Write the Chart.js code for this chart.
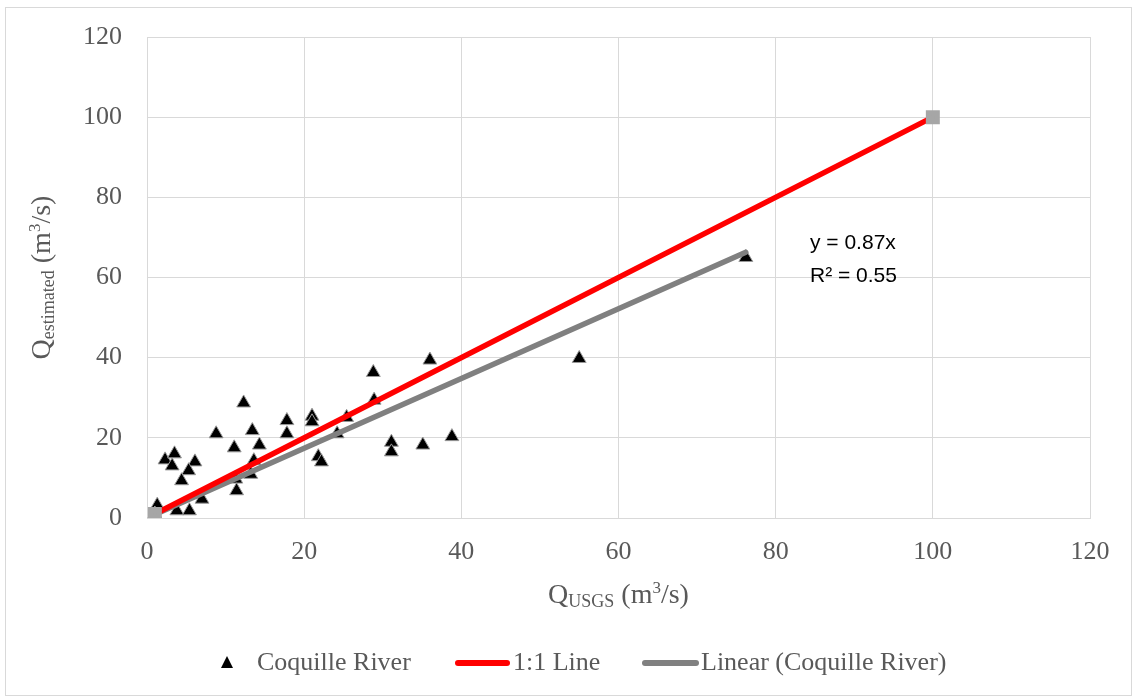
<!DOCTYPE html>
<html>
<head>
<meta charset="utf-8">
<title>Coquille River</title>
<script src="https://cdn.jsdelivr.net/npm/chart.js@4.4.1/dist/chart.umd.min.js"></script>
<style>
    body { margin: 0; background: #fff; }
    #wrap { width: 1138px; height: 700px; }
</style>
</head>
<body>
<div id="wrap"><canvas id="qChart" width="1138" height="700"></canvas></div>
<script>
// Observed vs estimated discharge (m3/s)
const usgsQ = [1.3, 2.3, 3.5, 3.2, 6.1, 5.3, 4.4, 3.8, 5.4, 7.0, 8.8, 11.1, 11.3, 11.4, 12.3, 13.4, 13.6, 13.2, 14.3,
    17.8, 17.8, 21.0, 21.0, 21.8, 22.2, 24.2, 25.4, 28.8, 28.9, 31.1, 31.1, 35.1, 36.0, 38.8, 55.0, 76.2, 1.0];
const estQ = [3.2, 14.5, 16.0, 13.0, 14.0, 11.8, 9.3, 1.8, 1.8, 4.7, 21.0, 17.5, 9.7, 6.8, 28.7, 21.8, 14.3, 10.9, 18.2,
    24.3, 21.0, 25.4, 24.0, 15.3, 14.0, 21.0, 25.1, 36.3, 29.4, 18.9, 16.5, 18.2, 39.4, 20.3, 39.8, 65.0, 1.0];

// 1:1 reference line end points
const oneToOneX = [1, 100];
const oneToOneY = [1, 100];

// linear trend line (y = 0.87x) end points
const trendX = [1, 76.2];
const trendY = [0.87, 66.3];
const trendText = ['y = 0.87x', 'R² = 0.55'];

const axisMax = 120;
const axisStep = 20;

const serif = '"Liberation Serif", "Times New Roman", serif';
const tickGray = '#595959';

function toPoints(xs, ys) {
    return xs.map((x, i) => ({ x: x, y: ys[i] }));
}

// Draw rich text pieces (subscripts / superscripts) along a baseline
function drawRich(ctx, parts, x, y) {
    let width = 0;
    parts.forEach(p => {
        ctx.font = p.size + 'px ' + serif;
        width += ctx.measureText(p.text).width;
    });
    let cx = x - width / 2;
    parts.forEach(p => {
        ctx.font = p.size + 'px ' + serif;
        ctx.fillText(p.text, cx, y + (p.shift || 0));
        cx += ctx.measureText(p.text).width;
    });
}

// Legend drawn by hand so each marker gets its own width
function drawLegend(chart) {
    const ctx = chart.ctx;
    const ds = chart.data.datasets;
    const y = 663;
    ctx.save();
    ctx.font = '26px ' + serif;
    ctx.fillStyle = tickGray;
    ctx.textBaseline = 'middle';
    ctx.textAlign = 'left';

    // scatter marker
    ctx.fillStyle = '#000';
    ctx.beginPath();
    ctx.moveTo(227, y - 7);
    ctx.lineTo(233, y + 5);
    ctx.lineTo(221, y + 5);
    ctx.closePath();
    ctx.fill();
    ctx.fillStyle = tickGray;
    ctx.fillText(ds[0].label, 257, y);

    // line markers
    [[1, 458, 507, 513], [2, 645, 696, 701]].forEach(([i, x0, x1, tx]) => {
        ctx.strokeStyle = ds[i].borderColor;
        ctx.lineWidth = 6;
        ctx.lineCap = 'round';
        ctx.beginPath();
        ctx.moveTo(x0, y);
        ctx.lineTo(x1, y);
        ctx.stroke();
        ctx.fillText(ds[i].label, tx, y);
    });
    ctx.restore();
}

const extrasPlugin = {
    id: 'extras',
    beforeDraw(chart) {
        const ctx = chart.ctx;
        ctx.save();
        ctx.fillStyle = '#fff';
        ctx.fillRect(0, 0, chart.width, chart.height);
        ctx.strokeStyle = '#d9d9d9';
        ctx.lineWidth = 1;
        ctx.strokeRect(5.5, 7.5, 1126, 688);
        ctx.restore();
    },
    afterDraw(chart) {
        const ctx = chart.ctx;
        const xs = chart.scales.x;
        const ys = chart.scales.y;
        ctx.save();
        ctx.fillStyle = tickGray;
        ctx.textBaseline = 'alphabetic';

        // x axis title
        drawRich(ctx, [
            { text: 'Q', size: 28 },
            { text: 'USGS', size: 18, shift: 4 },
            { text: ' (m', size: 28 },
            { text: '3', size: 17, shift: -10 },
            { text: '/s)', size: 28 }
        ], (xs.left + xs.right) / 2, 603);

        // y axis title
        ctx.translate(50, (ys.top + ys.bottom) / 2);
        ctx.rotate(-Math.PI / 2);
        drawRich(ctx, [
            { text: 'Q', size: 28 },
            { text: 'estimated', size: 18, shift: 4 },
            { text: ' (m', size: 28 },
            { text: '3', size: 17, shift: -10 },
            { text: '/s)', size: 28 }
        ], 0, 0);
        ctx.restore();

        // trend equation
        ctx.save();
        ctx.fillStyle = '#000';
        ctx.font = '21px "Liberation Sans", Arial, sans-serif';
        ctx.textAlign = 'left';
        ctx.textBaseline = 'middle';
        ctx.fillText(trendText[0], 810, 243);
        ctx.fillText(trendText[1], 810, 276);
        ctx.restore();

        drawLegend(chart);
    }
};

new Chart(document.getElementById('qChart'), {
    type: 'scatter',
    data: {
        datasets: [{
            label: 'Coquille River',
            data: toPoints(usgsQ, estQ),
            pointStyle: 'triangle',
            pointRadius: 8,
            pointHoverRadius: 8,
            backgroundColor: '#000000',
            borderColor: '#9a9a9a',
            borderWidth: 1,
            order: 3
        }, {
            label: '1:1 Line',
            type: 'line',
            data: toPoints(oneToOneX, oneToOneY),
            borderColor: '#FF0000',
            borderWidth: 5.5,
            borderCapStyle: 'round',
            pointStyle: 'rect',
            pointRadius: 6,
            pointBackgroundColor: '#a6a6a6',
            pointBorderColor: '#a6a6a6',
            fill: false,
            order: 1
        }, {
            label: 'Linear (Coquille River)',
            type: 'line',
            data: toPoints(trendX, trendY),
            borderColor: '#808080',
            borderWidth: 5.5,
            borderCapStyle: 'round',
            pointRadius: 0,
            fill: false,
            order: 2
        }]
    },
    options: {
        responsive: false,
        animation: false,
        layout: {
            padding: { left: 0, top: 37, right: 48, bottom: 0 }
        },
        plugins: {
            legend: { display: false },
            tooltip: { enabled: false }
        },
        scales: {
            x: {
                type: 'linear',
                min: 0,
                max: axisMax,
                afterFit(scale) { scale.height = 182; },
                ticks: {
                    stepSize: axisStep,
                    padding: 19,
                    color: tickGray,
                    font: { family: serif, size: 26 }
                },
                grid: { color: '#d9d9d9', drawTicks: false },
                border: { color: '#d9d9d9' }
            },
            y: {
                min: 0,
                max: axisMax,
                afterFit(scale) {
                    scale.width = 147;
                    scale.paddingTop = 0;
                    scale.paddingBottom = 0;
                },
                ticks: {
                    stepSize: axisStep,
                    padding: 25,
                    color: tickGray,
                    font: { family: serif, size: 26 }
                },
                grid: { color: '#d9d9d9', drawTicks: false },
                border: { color: '#d9d9d9' }
            }
        }
    },
    plugins: [extrasPlugin]
});
</script>
</body>
</html>
